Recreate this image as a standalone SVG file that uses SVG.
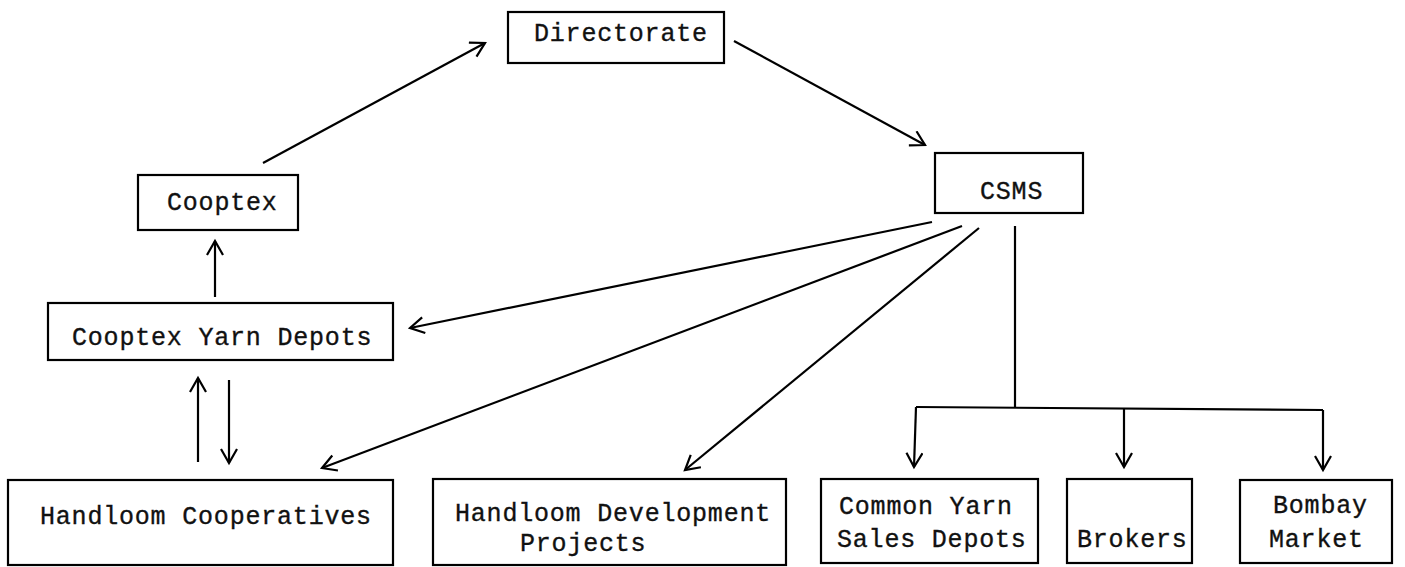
<svg xmlns="http://www.w3.org/2000/svg" width="1405" height="567" viewBox="0 0 1405 567">
<style>
.box{fill:none;stroke:#000;stroke-width:2.2}
.t{font-family:"Liberation Mono","DejaVu Sans Mono",monospace;font-size:25px;fill:#111;stroke:#111;stroke-width:0.35px;letter-spacing:0.8px}
.c{fill:none;stroke:#000;stroke-width:2.2}
</style>
<defs>
<marker id="ah" markerUnits="userSpaceOnUse" markerWidth="20" markerHeight="20" refX="15" refY="9" orient="auto">
<path d="M1,1 L15,9 L1,17" fill="none" stroke="#000" stroke-width="2.2"/>
</marker>
</defs>
<rect width="1405" height="567" fill="#fff"/>
<g id="connectors">
<line class="c" x1="263" y1="163" x2="485" y2="43" marker-end="url(#ah)"/>
<line class="c" x1="734" y1="41" x2="925" y2="145" marker-end="url(#ah)"/>
<line class="c" x1="932" y1="222" x2="410" y2="328" marker-end="url(#ah)"/>
<line class="c" x1="962" y1="226" x2="322" y2="468" marker-end="url(#ah)"/>
<line class="c" x1="979" y1="228" x2="685" y2="470" marker-end="url(#ah)"/>
<line class="c" x1="215" y1="297" x2="215" y2="241" marker-end="url(#ah)"/>
<line class="c" x1="198" y1="462" x2="198" y2="378" marker-end="url(#ah)"/>
<line class="c" x1="229" y1="380" x2="229" y2="463" marker-end="url(#ah)"/>
<polyline class="c" points="1015,226 1015,407"/>
<polyline class="c" points="916,407 1323,410"/>
<line class="c" x1="916" y1="407" x2="914" y2="467" marker-end="url(#ah)"/>
<line class="c" x1="1124" y1="408" x2="1124" y2="467" marker-end="url(#ah)"/>
<line class="c" x1="1323" y1="410" x2="1323" y2="470" marker-end="url(#ah)"/>
</g>
<g id="directorate">
<rect class="box" x="508" y="12" width="216" height="51"/>
<text class="t" x="534" y="41">Directorate</text>
</g>
<g id="cooptex">
<rect class="box" x="138" y="175" width="160" height="55"/>
<text class="t" x="167" y="210">Cooptex</text>
</g>
<g id="csms">
<rect class="box" x="935" y="153" width="148" height="60"/>
<text class="t" x="980" y="199">CSMS</text>
</g>
<g id="cooptex-yarn-depots">
<rect class="box" x="48" y="303" width="345" height="57"/>
<text class="t" x="72" y="345">Cooptex Yarn Depots</text>
</g>
<g id="handloom-cooperatives">
<rect class="box" x="8" y="480" width="385" height="85"/>
<text class="t" x="40" y="524">Handloom Cooperatives</text>
</g>
<g id="handloom-development-projects">
<rect class="box" x="433" y="479" width="353" height="86"/>
<text class="t" x="455" y="521">Handloom Development</text>
<text class="t" x="520" y="551">Projects</text>
</g>
<g id="common-yarn-sales-depots">
<rect class="box" x="821" y="479" width="217" height="84"/>
<text class="t" x="839" y="514">Common Yarn</text>
<text class="t" x="837" y="547">Sales Depots</text>
</g>
<g id="brokers">
<rect class="box" x="1067" y="479" width="125" height="84"/>
<text class="t" x="1077" y="547">Brokers</text>
</g>
<g id="bombay-market">
<rect class="box" x="1240" y="480" width="152" height="83"/>
<text class="t" x="1273" y="513">Bombay</text>
<text class="t" x="1269" y="547">Market</text>
</g>
</svg>
